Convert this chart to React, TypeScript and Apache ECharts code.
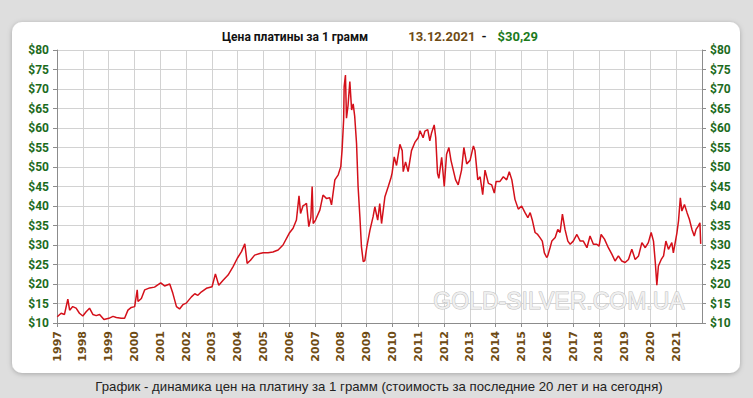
import React, { useEffect, useRef } from "react";
import * as echarts from "echarts";

// ---- Texts ----
const titleMain = "Цена платины за 1 грамм";
const titleDate = "13.12.2021";
const titlePrice = "$30,29";
const captionText =
  "График - динамика цен на платину за 1 грамм (стоимость за последние 20 лет и на сегодня)";
const watermarkText = "GOLD-SILVER.COM.UA";

// ---- Axes ----
const yearTicks = [
  1997, 1998, 1999, 2000, 2001, 2002, 2003, 2004, 2005, 2006, 2007, 2008, 2009,
  2010, 2011, 2012, 2013, 2014, 2015, 2016, 2017, 2018, 2019, 2020, 2021,
];
const xMin = 1997;
const xMax = 2022;
const yMin = 10;
const yMax = 80;
const yStep = 5;

// ---- Price per gram, USD: [year fraction, price] ----
const prices1997to2001: [number, number][] = [
  [1997.01, 11.6], [1997.16, 12.5], [1997.29, 12.2], [1997.42, 16.1], [1997.49, 13.3],
  [1997.61, 14.2], [1997.74, 13.8], [1997.87, 12.5], [1998.0, 11.8], [1998.13, 12.9],
  [1998.26, 13.8], [1998.39, 12.2], [1998.52, 11.9], [1998.65, 12.2], [1998.82, 10.9],
  [1999.01, 11.2], [1999.17, 11.7], [1999.3, 11.4], [1999.49, 11.2], [1999.62, 11.2],
  [1999.75, 13.3], [1999.88, 14.0], [2000.01, 14.2], [2000.11, 18.5], [2000.14, 15.5],
  [2000.27, 16.3], [2000.4, 18.5], [2000.59, 19.0], [2000.78, 19.2], [2001.02, 20.3],
  [2001.17, 19.5], [2001.37, 20.0], [2001.49, 17.6], [2001.63, 14.2], [2001.75, 13.6],
  [2001.88, 14.7],
];
const prices2002to2006: [number, number][] = [
  [2002.01, 15.1], [2002.21, 16.7], [2002.34, 17.5], [2002.46, 17.1], [2002.6, 18.0],
  [2002.79, 18.9], [2003.01, 19.3], [2003.14, 22.6], [2003.27, 19.7], [2003.43, 20.9],
  [2003.63, 22.3], [2003.82, 24.4], [2003.99, 26.6], [2004.15, 28.3], [2004.28, 30.3],
  [2004.37, 25.3], [2004.5, 26.1], [2004.66, 27.4], [2004.86, 27.8], [2004.99, 28.0],
  [2005.18, 28.0], [2005.37, 28.2], [2005.57, 28.7], [2005.76, 30.0], [2006.0, 33.0],
  [2006.15, 34.3], [2006.28, 36.4], [2006.38, 42.6], [2006.44, 38.1], [2006.54, 40.1],
  [2006.6, 40.3], [2006.67, 40.7], [2006.76, 34.7], [2006.84, 37.1], [2006.89, 45.0],
  [2006.93, 35.5],
];
const prices2007to2011: [number, number][] = [
  [2007.02, 36.4], [2007.19, 39.0], [2007.31, 42.8], [2007.45, 41.9], [2007.57, 42.1],
  [2007.64, 40.3], [2007.77, 46.7], [2007.9, 48.0], [2008.0, 50.1], [2008.05, 54.4],
  [2008.11, 62.1], [2008.13, 70.6], [2008.18, 73.6], [2008.22, 62.5], [2008.28, 65.7],
  [2008.35, 71.9], [2008.42, 64.6], [2008.48, 66.2], [2008.54, 62.9], [2008.61, 56.1],
  [2008.67, 45.0], [2008.74, 37.2], [2008.8, 29.6], [2008.87, 25.7], [2008.93, 26.0],
  [2009.01, 29.6], [2009.13, 33.8], [2009.25, 37.2], [2009.32, 39.8], [2009.43, 36.4],
  [2009.51, 40.6], [2009.58, 35.5], [2009.71, 42.4], [2009.84, 45.0], [2009.94, 47.1],
  [2009.99, 48.5], [2010.07, 52.6], [2010.16, 50.4], [2010.29, 55.8], [2010.38, 54.2],
  [2010.42, 48.8], [2010.51, 51.3], [2010.61, 48.8], [2010.74, 54.2], [2010.87, 56.3],
  [2011.0, 57.5], [2011.07, 59.3], [2011.19, 57.5], [2011.26, 59.2], [2011.37, 59.6],
  [2011.45, 56.7], [2011.52, 58.8], [2011.62, 60.8], [2011.68, 57.5], [2011.75, 48.3],
  [2011.8, 47.1], [2011.91, 52.5],
];
const prices2012to2016: [number, number][] = [
  [2012.01, 45.0], [2012.1, 53.3], [2012.19, 55.0], [2012.27, 51.7], [2012.36, 49.2],
  [2012.45, 46.7], [2012.55, 45.4], [2012.68, 49.2], [2012.77, 55.0], [2012.88, 50.8],
  [2013.01, 51.7], [2013.14, 55.4], [2013.2, 54.2], [2013.31, 46.7], [2013.4, 47.5],
  [2013.5, 42.9], [2013.59, 49.2], [2013.72, 45.8], [2013.85, 45.4], [2013.95, 43.3],
  [2014.02, 46.3], [2014.17, 46.3], [2014.3, 47.5], [2014.43, 46.7], [2014.53, 48.8],
  [2014.63, 46.7], [2014.75, 41.7], [2014.88, 39.2], [2015.01, 40.0], [2015.14, 38.3],
  [2015.25, 37.0], [2015.34, 38.3], [2015.43, 36.2], [2015.53, 33.2], [2015.63, 32.7],
  [2015.72, 31.9], [2015.81, 31.0], [2015.89, 28.0], [2015.98, 26.8], [2016.02, 27.2],
  [2016.11, 29.3], [2016.18, 31.0], [2016.31, 31.9], [2016.41, 34.0], [2016.5, 33.2],
  [2016.59, 37.9], [2016.69, 34.0], [2016.8, 31.0], [2016.89, 30.2],
];
const prices2017to2021: [number, number][] = [
  [2017.01, 31.0], [2017.15, 32.7], [2017.28, 31.0], [2017.4, 31.0], [2017.54, 29.3],
  [2017.66, 32.3], [2017.79, 30.2], [2017.92, 30.2], [2018.01, 29.7], [2018.09, 32.7],
  [2018.22, 31.5], [2018.37, 29.3], [2018.51, 27.6], [2018.63, 25.9], [2018.76, 27.2],
  [2018.89, 25.9], [2019.02, 25.5], [2019.15, 26.3], [2019.28, 28.9], [2019.41, 26.3],
  [2019.54, 27.2], [2019.67, 30.6], [2019.8, 29.3], [2019.92, 30.6], [2020.03, 33.2],
  [2020.12, 31.0], [2020.19, 25.5], [2020.25, 19.7], [2020.31, 24.6], [2020.42, 26.3],
  [2020.51, 27.2], [2020.6, 31.0], [2020.7, 28.9], [2020.83, 30.6], [2020.89, 28.0],
  [2021.03, 33.2], [2021.09, 36.2], [2021.16, 42.1], [2021.22, 38.7], [2021.32, 40.4],
  [2021.42, 38.3], [2021.51, 36.6], [2021.61, 34.0], [2021.7, 32.3], [2021.77, 34.0],
  [2021.86, 34.9], [2021.92, 35.7], [2021.95, 30.29],
];

const allPrices = [
  ...prices1997to2001,
  ...prices2002to2006,
  ...prices2007to2011,
  ...prices2012to2016,
  ...prices2017to2021,
];

const green = "#1d6b1d";
const brown = "#6e4b14";
const axisGray = "#8c8c8c";
const gridGray = "#d2d2d2";

export default function App() {
  const ref = useRef<HTMLDivElement>(null);

  useEffect(() => {
    if (!ref.current) return;
    const chart = echarts.init(ref.current, undefined, { renderer: "svg" });
    const yLabel = {
      color: green,
      fontSize: 12,
      fontWeight: "bold" as const,
      fontFamily: "Roboto, 'Open Sans', sans-serif",
      formatter: (v: number) => "$" + v,
      margin: 8,
    };
    chart.setOption({
      animation: false,
      backgroundColor: "#dedede",
      title: {
        left: 217,
        top: 25,
        text:
          "{a|" + titleMain + "}{s| }{b|" + titleDate + "}{c|-}{d|" + titlePrice + "}",
        textStyle: {
          rich: {
            a: { fontSize: 12, fontWeight: "bold", color: "#111", fontFamily: "Roboto" },
            s: { fontSize: 13, width: 40 },
            b: { fontSize: 13, color: brown, fontFamily: "Roboto" },
            c: { fontSize: 13, color: "#111", fontFamily: "Roboto", padding: [0, 11, 0, 6] },
            d: { fontSize: 13, color: "#1c7a1c", fontFamily: "Roboto" },
          },
        },
      },
      graphic: [
        {
          type: "rect",
          z: -10,
          shape: { x: 12, y: 22, width: 728, height: 351, r: 10 },
          style: {
            fill: "#ffffff",
            shadowBlur: 5,
            shadowColor: "rgba(0,0,0,0.25)",
            shadowOffsetY: 1,
          },
        },
        {
          type: "text",
          z: 1,
          x: 559,
          y: 301,
          style: {
            text: watermarkText,
            fontSize: 23,
            fontFamily: "'Liberation Sans', Arial, sans-serif",
            fill: "#efefef",
            stroke: "#c0c0c0",
            lineWidth: 1,
            textAlign: "center",
            textVerticalAlign: "middle",
          },
        },
        {
          type: "text",
          x: 379,
          y: 386,
          style: {
            text: captionText,
            fontSize: 13.2,
            fontFamily: "'Liberation Sans', Arial, sans-serif",
            fill: "#222222",
            textAlign: "center",
            textVerticalAlign: "middle",
          },
        },
      ],
      grid: { left: 57, right: 51, top: 50, bottom: 75, containLabel: false },
      xAxis: {
        type: "value",
        min: xMin,
        max: xMax,
        interval: 1,
        axisLine: { show: true, lineStyle: { color: axisGray } },
        axisTick: { show: true, length: 4, lineStyle: { color: axisGray } },
        splitLine: { show: true, lineStyle: { color: gridGray } },
        axisLabel: {
          rotate: 90,
          margin: 8,
          color: brown,
          fontSize: 11,
          fontWeight: "bold",
          fontFamily: "'DejaVu Sans', Verdana, sans-serif",
          showMaxLabel: false,
          formatter: (v: number) => (yearTicks.includes(v) ? String(v) : ""),
        },
      },
      yAxis: [
        {
          type: "value",
          position: "left",
          min: yMin,
          max: yMax,
          interval: yStep,
          axisLine: { show: true, lineStyle: { color: axisGray } },
          axisTick: { show: true, length: 4, lineStyle: { color: axisGray } },
          splitLine: { show: true, lineStyle: { color: gridGray } },
          axisLabel: yLabel,
        },
        {
          type: "value",
          position: "right",
          min: yMin,
          max: yMax,
          interval: yStep,
          axisLine: { show: true, lineStyle: { color: axisGray } },
          axisTick: { show: true, length: 4, lineStyle: { color: axisGray } },
          splitLine: { show: false },
          axisLabel: yLabel,
        },
      ],
      series: [
        {
          type: "line",
          data: allPrices,
          showSymbol: false,
          symbol: "none",
          yAxisIndex: 0,
          z: 3,
          lineStyle: { color: "#d4101a", width: 1.5 },
        },
      ],
    });
    return () => chart.dispose();
  }, []);

  return (
    <div
      ref={ref}
      style={{ position: "fixed", left: 0, top: 0, width: 753, height: 398 }}
    />
  );
}
